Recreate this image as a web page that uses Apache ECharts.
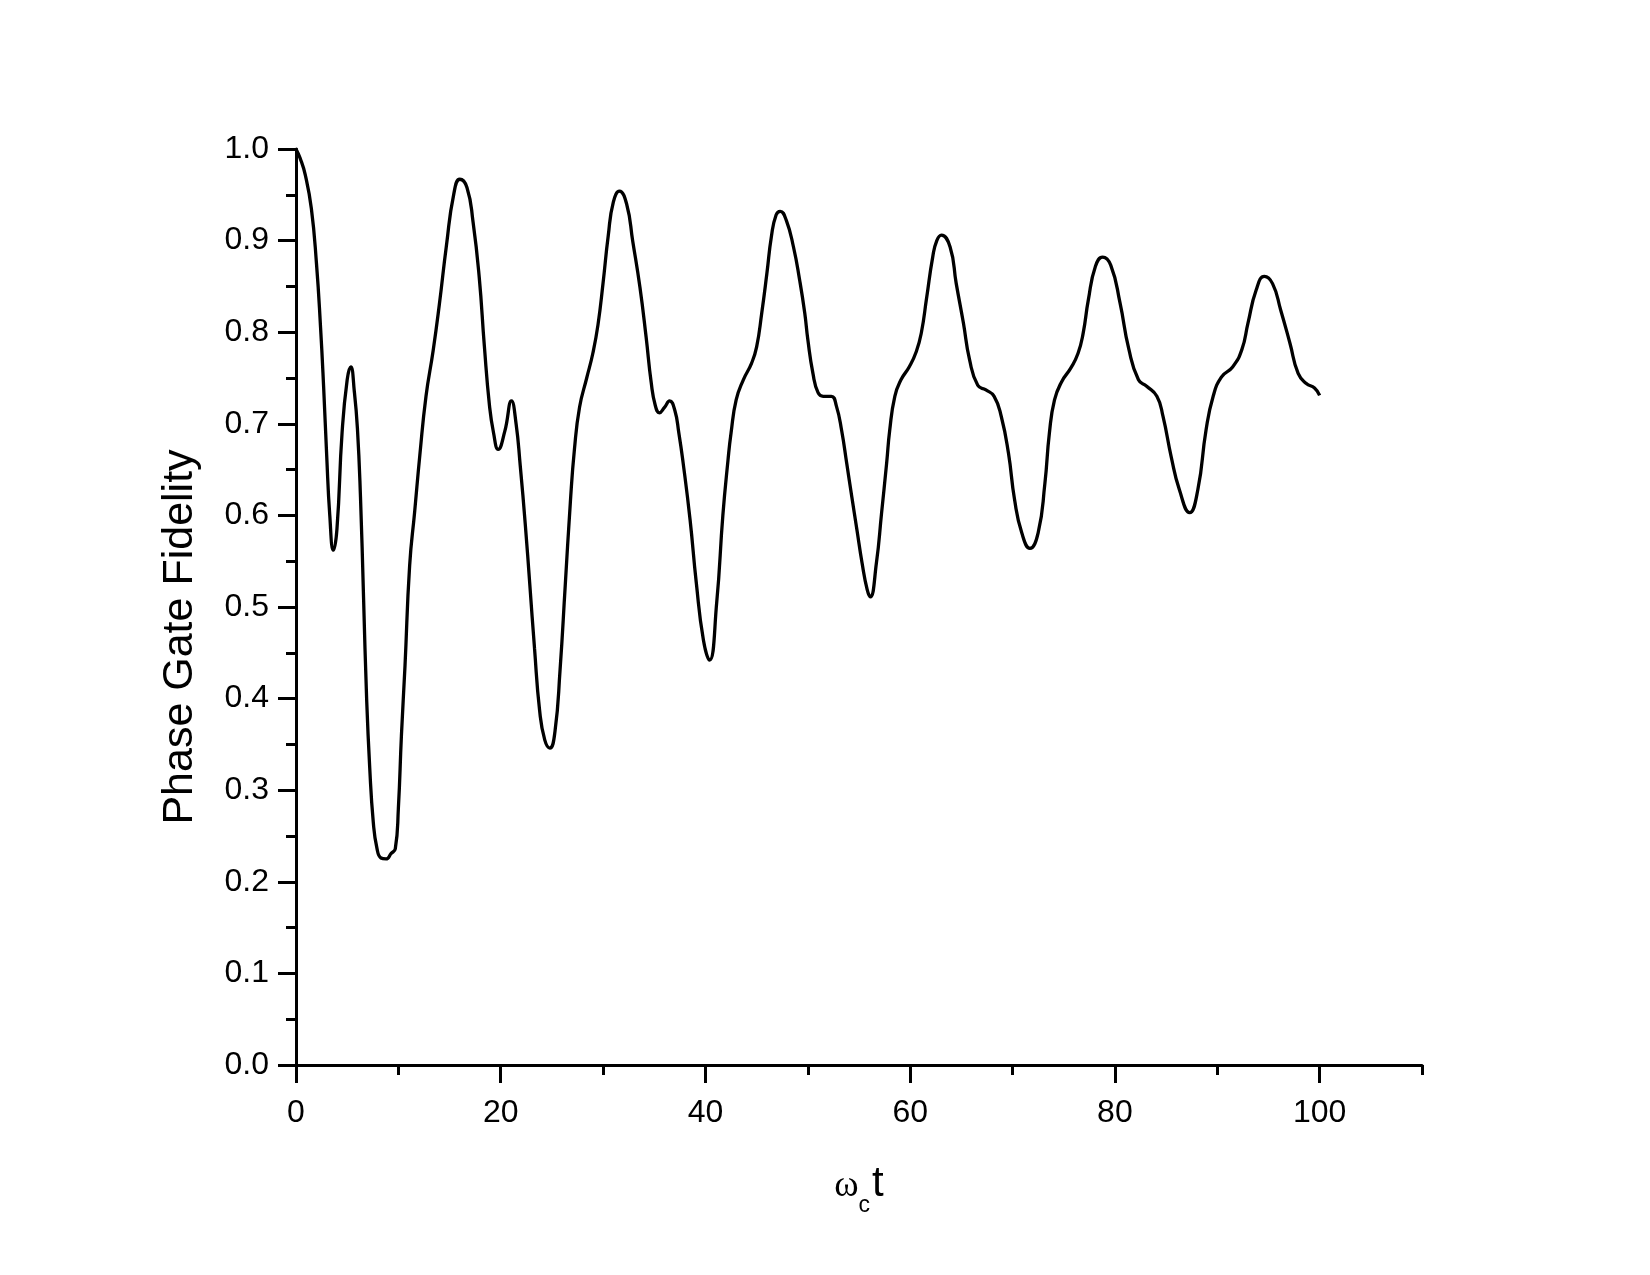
<!DOCTYPE html>
<html>
<head>
<meta charset="utf-8">
<script src="https://cdn.jsdelivr.net/npm/echarts@6/dist/echarts.min.js"></script>
<style>
html,body{margin:0;padding:0;background:#fff;}
#chart{width:1650px;height:1275px;}
</style>
</head>
<body>
<div id="chart"></div>
<script>
// time (omega_c t) values
const timeValues = [
  0, 0.4, 0.9, 1.5, 2.0, 2.4, 2.7, 3.0, 3.3, 3.65, 4.0, 4.5, 5.0, 5.35, 5.7, 6.0, 6.3, 6.6, 6.9, 7.2,
  7.55, 7.9, 8.3, 8.8, 9.3, 9.7, 10.0, 10.3, 10.65, 11.1, 11.6, 12.1, 12.7, 13.4, 14.0, 14.7, 15.4, 16.0, 16.7, 17.3,
  17.9, 18.4, 18.9, 19.3, 19.75, 20.4, 21.05, 21.5, 21.9, 22.4, 22.85, 23.3, 23.8, 24.3, 24.8, 25.3, 25.8, 26.3, 26.8, 27.2,
  27.7, 28.4, 29.0, 29.5, 30.0, 30.5, 31.0, 31.6, 32.3, 32.9, 33.6, 34.2, 34.7, 35.1, 35.5, 36.0, 36.5, 37.0, 37.4, 37.8,
  38.5, 39.1, 39.8, 40.4, 41.1, 41.7, 42.2, 42.5, 43.0, 43.7, 44.5, 45.0, 45.5, 46.0, 46.45, 46.9, 47.3, 47.9, 48.6, 49.2,
  49.7, 50.0, 50.5, 51.0, 51.5, 52.3, 52.8, 53.3, 53.8, 54.3, 54.8, 55.3, 55.8, 56.1, 56.7, 57.2, 57.7, 58.0, 58.5, 59.1,
  59.9, 60.6, 61.1, 61.6, 62.2, 62.6, 63.05, 63.9, 64.5, 65.2, 65.8, 66.6, 67.4, 68.2, 68.9, 69.6, 70.2, 70.9, 71.7, 72.5,
  73.16, 73.6, 74.1, 74.8, 75.7, 76.4, 76.9, 77.4, 78.1, 78.8, 79.6, 80.5, 81.35, 82.3, 83.1, 84.1, 84.7, 85.5, 86.3, 87.3,
  88.1, 88.9, 89.6, 90.4, 91.5, 92.4, 93.0, 93.8, 94.6, 95.4, 96.2, 97.1, 97.9, 98.7, 99.5, 100
];
// phase gate fidelity values
const fidelityValues = [
  1.0, 0.99, 0.972, 0.935, 0.875, 0.805, 0.74, 0.665, 0.6, 0.562, 0.585, 0.69, 0.748, 0.762, 0.735, 0.695, 0.62, 0.51, 0.40, 0.325,
  0.265, 0.237, 0.226, 0.225, 0.231, 0.236, 0.28, 0.36, 0.436, 0.545, 0.605, 0.666, 0.73, 0.78, 0.83, 0.895, 0.95, 0.967, 0.958, 0.92,
  0.86, 0.785, 0.72, 0.69, 0.672, 0.692, 0.725, 0.70, 0.655, 0.59, 0.523, 0.455, 0.387, 0.355, 0.346, 0.364, 0.432, 0.523, 0.614, 0.672,
  0.718, 0.75, 0.777, 0.808, 0.854, 0.905, 0.942, 0.954, 0.94, 0.899, 0.849, 0.795, 0.745, 0.72, 0.712, 0.718, 0.725, 0.715, 0.69, 0.659,
  0.595, 0.527, 0.464, 0.442, 0.505, 0.60, 0.66, 0.69, 0.726, 0.748, 0.766, 0.784, 0.821, 0.864, 0.905, 0.928, 0.932, 0.922, 0.893, 0.857,
  0.821, 0.792, 0.755, 0.734, 0.73, 0.73, 0.719, 0.693, 0.657, 0.62, 0.584, 0.548, 0.519, 0.511, 0.548, 0.602, 0.657, 0.693, 0.73, 0.748,
  0.762, 0.779, 0.80, 0.837, 0.882, 0.90, 0.906, 0.893, 0.853, 0.81, 0.77, 0.742, 0.737, 0.73, 0.708, 0.668, 0.617, 0.581, 0.564, 0.581,
  0.635, 0.69, 0.726, 0.746, 0.761, 0.777, 0.799, 0.835, 0.872, 0.882, 0.873, 0.832, 0.782, 0.748, 0.741, 0.73, 0.708, 0.664, 0.628, 0.603,
  0.628, 0.693, 0.73, 0.751, 0.762, 0.781, 0.81, 0.846, 0.861, 0.853, 0.824, 0.788, 0.755, 0.744, 0.739, 0.731
];
const xRange = [0, 110];
const yRange = [0, 1.0];

const seriesData = timeValues.map((t, i) => [t, fidelityValues[i]]);
const FONT = 'Arial, "Liberation Sans", sans-serif';

const chart = echarts.init(document.getElementById('chart'), null, {renderer: 'canvas'});
chart.setOption({
  animation: false,
  backgroundColor: '#ffffff',
  grid: {left: 296, top: 149, width: 1126, height: 916, containLabel: false},
  xAxis: [
    {
      type: 'value', position: 'bottom', min: xRange[0], max: xRange[1], interval: 20,
      splitLine: {show: false},
      axisLine: {show: true, onZero: false, lineStyle: {color: '#000', width: 3}},
      axisTick: {show: true, inside: false, length: 18, lineStyle: {color: '#000', width: 3}},
      axisLabel: {show: true, margin: 32, color: '#000', fontSize: 32, fontFamily: FONT, showMaxLabel: false},
      name: '{w|ω}{s|c}{t|t}',
      nameLocation: 'middle',
      nameGap: 98,
      nameTextStyle: {
        color: '#000',
        rich: {
          w: {fontSize: 37, fontFamily: '"Liberation Serif", "Times New Roman", serif', color: '#000', verticalAlign: 'bottom', padding: [0, 0, 12, 0]},
          s: {fontSize: 23, fontFamily: FONT, color: '#000', verticalAlign: 'bottom'},
          t: {fontSize: 42, fontFamily: FONT, color: '#000', verticalAlign: 'bottom', padding: [0, 0, 12, 2]}
        }
      }
    },
    {
      type: 'value', position: 'bottom', min: xRange[0], max: xRange[1], interval: 10,
      splitLine: {show: false},
      axisLine: {show: false},
      axisTick: {show: true, inside: false, length: 10, lineStyle: {color: '#000', width: 3}},
      axisLabel: {show: false}
    }
  ],
  yAxis: {
    type: 'value', min: yRange[0], max: yRange[1], interval: 0.1,
    splitLine: {show: false},
    axisLine: {show: true, onZero: false, lineStyle: {color: '#000', width: 3}},
    axisTick: {show: true, inside: false, length: 18, lineStyle: {color: '#000', width: 3}},
    minorTick: {show: true, splitNumber: 2, length: 10, lineStyle: {color: '#000', width: 3}},
    axisLabel: {show: true, margin: 27, color: '#000', fontSize: 32, fontFamily: FONT,
      formatter: v => v.toFixed(1)},
    name: 'Phase Gate Fidelity',
    nameLocation: 'middle',
    nameGap: 94,
    nameRotate: 90,
    nameTextStyle: {color: '#000', fontSize: 43, fontFamily: FONT, padding: [0, 60, 0, 0]}
  },
  series: [{
    type: 'line',
    xAxisIndex: 0,
    data: seriesData,
    showSymbol: false,
    smooth: 0.5,
    lineStyle: {color: '#000', width: 3.3},
    itemStyle: {color: '#000'}
  }]
});
</script>
</body>
</html>
